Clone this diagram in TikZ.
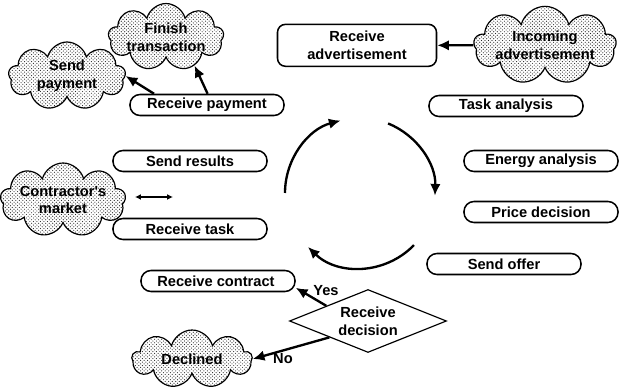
\documentclass[tikz,border=0pt]{standalone}
\usepackage{fontspec}
\setmainfont{Liberation Sans}
\usepackage{tikz}
\usetikzlibrary{positioning}
\usetikzlibrary{shapes.geometric,shapes.symbols}
\usetikzlibrary{patterns}
\usetikzlibrary{arrows.meta}
\tikzset{>={Latex[length=10pt,width=9pt]}}
\tikzset{
  txt/.style={font=\bfseries\fontsize{12.5}{15}\selectfont, align=center},
  proc/.style={txt, draw, line width=1.3pt, rounded corners=0.3cm,
    minimum width=4.62cm, minimum height=0.63cm, inner sep=0pt},
  ext/.style={txt, cloud, cloud puffs=9, cloud ignores aspect, draw,
    line width=1pt, pattern=crosshatch dots, pattern color=black!85, inner sep=0pt},
  conn/.style={->, line width=2pt},
}

\begin{document}
\begin{tikzpicture}[scale=1]
\useasboundingbox (0,0) rectangle (18.57,11.76);

% ================= Process steps =================
\foreach \name/\x/\y/\label in {
  rpay/6.21/8.61/Receive payment,
  task/15.18/8.58/Task analysis,
  energy/16.23/6.93/Energy analysis,
  price/16.23/5.40/Price decision,
  offer/15.12/3.84/Send offer,
  sres/5.70/6.93/Send results,
  rtask/5.70/4.89/Receive task,
  rcon/6.54/3.33/Receive contract
}{
  \node[proc] (\name) at (\x,\y) {\label};
}

\node[txt, draw, line width=1.3pt, rounded corners=0.24cm,
  minimum width=4.77cm, minimum height=1.26cm, inner sep=0pt]
  (radv) at (10.71,10.40) {Receive\\advertisement};

% ================= External events =================
\node[ext, minimum width=3.51cm, minimum height=2.04cm] (spay) at (2.01,9.48) {Send\\payment};
\node[ext, minimum width=2.85cm, minimum height=1.71cm] (fin) at (4.98,10.65) {Finish\\transaction};
\node[ext, minimum width=3.75cm, minimum height=2.34cm] (inc) at (16.35,10.40) {Incoming\\advertisement};
\node[ext, minimum width=3.6cm, minimum height=2.22cm] (cmkt) at (1.89,5.76) {Contractor\textquotesingle s\\market};
\node[ext, minimum width=3.6cm, minimum height=1.74cm] (decl) at (5.76,0.99) {Declined};

% ================= Decision =================
\node[txt, diamond, draw, line width=1pt, shape aspect=2.5, inner sep=0pt,
  minimum width=4.71cm, minimum height=1.89cm] (dec) at (11.04,2.13) {Receive\\decision};

% ================= Connectors =================
\draw[conn] (rpay.168) -- (spay.east);
\draw[conn] (rpay.87) -- (fin.-45);
\draw[conn] (inc.west) -- (radv.east);
\draw[conn] (dec.160) -- (rcon.-5);
\draw[conn] (dec.203) -- (decl.east);
\node[txt] (yes) at (9.78,3.03) {Yes};
\node[txt] (no) at (8.49,0.99) {No};

% market link
\coordinate (mleft) at (4.05,5.85);
\coordinate (mright) at (5.19,5.85);
\draw[<->, line width=1.5pt, >={Latex[length=5pt,width=5pt]}] (mleft) -- (mright);

% ================= Cycle =================
\coordinate (cyc) at (10.8,5.97);
\draw[conn] (cyc) ++(180:2.25) arc[start angle=180, end angle=105, radius=2.25];
\draw[conn] (cyc) ++(68:2.25) arc[start angle=68, end angle=-2, radius=2.25];
\draw[conn] (cyc) ++(-44:2.25) arc[start angle=-44, end angle=-134, radius=2.25];

\end{tikzpicture}
\end{document}
